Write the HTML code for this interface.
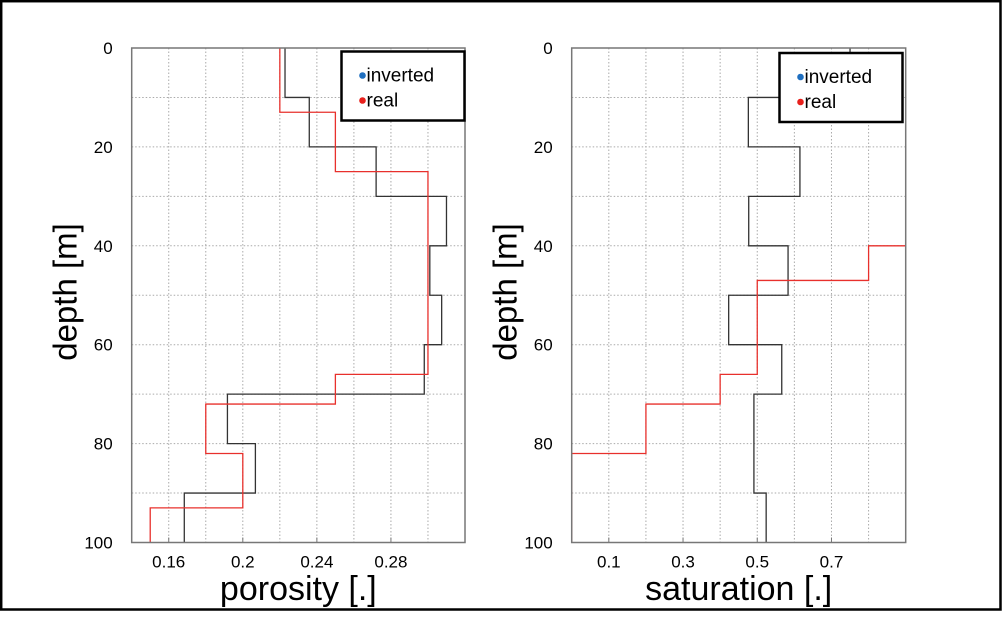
<!DOCTYPE html>
<html><head><meta charset="utf-8"><style>
html,body{margin:0;padding:0;background:#fff;}
svg{display:block;font-family:"Liberation Sans",Arial,sans-serif;}
</style></head><body>
<svg id="fig" width="1002" height="631" viewBox="0 0 1002 631" xmlns="http://www.w3.org/2000/svg">
<rect x="1.2" y="1.2" width="999.3" height="608.3" fill="#fff" stroke="#000" stroke-width="2.5"/>
<g id="p1"></g>
<g id="p2"></g>
</svg>
<script>
// depth boundaries (m) and values per layer
const porInvDepths = [0,10,20,30,40,50,60,70,80,90,100];
const porInvValues = [0.2228,0.2359,0.272,0.310,0.301,0.3074,0.298,0.1917,0.2068,0.1684];
const porRealDepths = [0,13,25,66,72,82,93,100];
const porRealValues = [0.22,0.25,0.30,0.25,0.18,0.20,0.15];
const satInvDepths = [0,10,20,30,40,50,60,70,90,100];
const satInvValues = [0.75,0.476,0.615,0.477,0.583,0.423,0.566,0.491,0.524];
const satRealDepths = [0,40,47,66,72,82,100];
const satRealValues = [1.0,0.8,0.5,0.4,0.2,0.0];
const depthTicks = [0,20,40,60,80,100];
const porTicks = [0.16,0.2,0.24,0.28];
const porTickLabels = ["0.16","0.2","0.24","0.28"];
const satTicks = [0.1,0.3,0.5,0.7];
const satTickLabels = ["0.1","0.3","0.5","0.7"];

const NS = "http://www.w3.org/2000/svg";
function mk(parent, tag, attrs){const e=document.createElementNS(NS,tag);for(const k in attrs)e.setAttribute(k,attrs[k]);parent.appendChild(e);return e;}

function panel(g, cfg){
  const {x0,x1,y0,y1,xmin,xmax,grid,ticks,labels,inv,real,xlabel,lx,lyTop,cid} = cfg;
  const sx = v => x0 + (v - xmin)/(xmax - xmin)*(x1 - x0);
  const sy = d => y0 + d/100*(y1 - y0);
  const defs = mk(g,'defs',{});
  const cp = mk(defs,'clipPath',{id:cid});
  mk(cp,'rect',{x:x0,y:y0,width:x1-x0,height:y1-y0});
  // grid
  for (let v = xmin + grid; v < xmax - 1e-9; v += grid){
    const l = mk(g,'line',{x1:sx(v),x2:sx(v),y1:y0,y2:y1,stroke:'#aaa','stroke-width':1,'stroke-dasharray':'1.5,2'});
    
    
  }
  for (let d = 10; d < 100; d += 10){
    const l = mk(g,'line',{x1:x0,x2:x1,y1:sy(d),y2:sy(d),stroke:'#aaa','stroke-width':1,'stroke-dasharray':'1.5,2'});
    
    
  }
  // series
  function stepPath(depths, vals){
    let p = '';
    for (let i=0;i<vals.length;i++){
      const x = sx(vals[i]);
      p += (i===0?'M':'L') + x + ',' + sy(depths[i]) + 'L' + x + ',' + sy(depths[i+1]);
    }
    return p;
  }
  const s1 = mk(g,'path',{d:stepPath(inv.d,inv.v),fill:'none',stroke:'#333','stroke-width':1.3,'clip-path':'url(#'+cid+')'});
  
  
  const s2 = mk(g,'path',{d:stepPath(real.d,real.v),fill:'none',stroke:'#e8302c','stroke-width':1.3,'clip-path':'url(#'+cid+')'});
  
  
  // frame
  const fr = mk(g,'rect',{x:x0,y:y0,width:x1-x0,height:y1-y0,fill:'none',stroke:'#777','stroke-width':1.5});
  
  
  // y ticks
  depthTicks.forEach(d=>{
    const t = mk(g,'text',{x:x0-19,y:sy(d)+6,'font-size':17,'text-anchor':'end',fill:'#000'});
    t.textContent = d;
    
    
  });
  ticks.forEach((v,i)=>{
    mk(g,'line',{x1:sx(v),x2:sx(v),y1:y1,y2:y1-5,stroke:'#777','stroke-width':1});
    const t = mk(g,'text',{x:sx(v),y:y1+25,'font-size':17,'text-anchor':'middle',fill:'#000'});
    t.textContent = labels[i];
    
    
  });
  const xt = mk(g,'text',{x:(x0+x1)/2,y:600,'font-size':34,'text-anchor':'middle',fill:'#000'});
  xt.textContent = xlabel;
  
  
  const yt = mk(g,'text',{x:0,y:0,'font-size':33,'text-anchor':'middle',fill:'#000',transform:'translate('+(x0-55)+',292) rotate(-90)'});
  yt.textContent = 'depth [m]';
  
  
  // legend
  const lg = mk(g,'g',{});
  
  
  mk(lg,'rect',{x:lx,y:lyTop,width:123,height:69,fill:'#fff',stroke:'#000','stroke-width':2.5});
  mk(lg,'circle',{cx:lx+21,cy:lyTop+24,r:3.3,fill:'#1f6fc0'});
  const a = mk(lg,'text',{x:lx+25,y:lyTop+30,'font-size':19,fill:'#000'});
  a.textContent='inverted';
  
  
  mk(lg,'circle',{cx:lx+21,cy:lyTop+49,r:3.3,fill:'#e8201c'});
  const b = mk(lg,'text',{x:lx+25,y:lyTop+55,'font-size':19,fill:'#000'});
  b.textContent='real';
  
  
}

panel(document.getElementById('p1'),{x0:131.7,x1:465,y0:48,y1:542.5,xmin:0.14,xmax:0.32,grid:0.02,
  ticks:porTicks,labels:porTickLabels,inv:{d:porInvDepths,v:porInvValues},real:{d:porRealDepths,v:porRealValues},
  xlabel:'porosity [.]',lx:341.5,lyTop:51.5,cid:'c1'});
panel(document.getElementById('p2'),{x0:571.7,x1:905.7,y0:48,y1:542.5,xmin:0,xmax:0.9,grid:0.1,
  ticks:satTicks,labels:satTickLabels,inv:{d:satInvDepths,v:satInvValues},real:{d:satRealDepths,v:satRealValues},
  xlabel:'saturation [.]',lx:779.5,lyTop:53,cid:'c2'});
</script>
</body></html>
